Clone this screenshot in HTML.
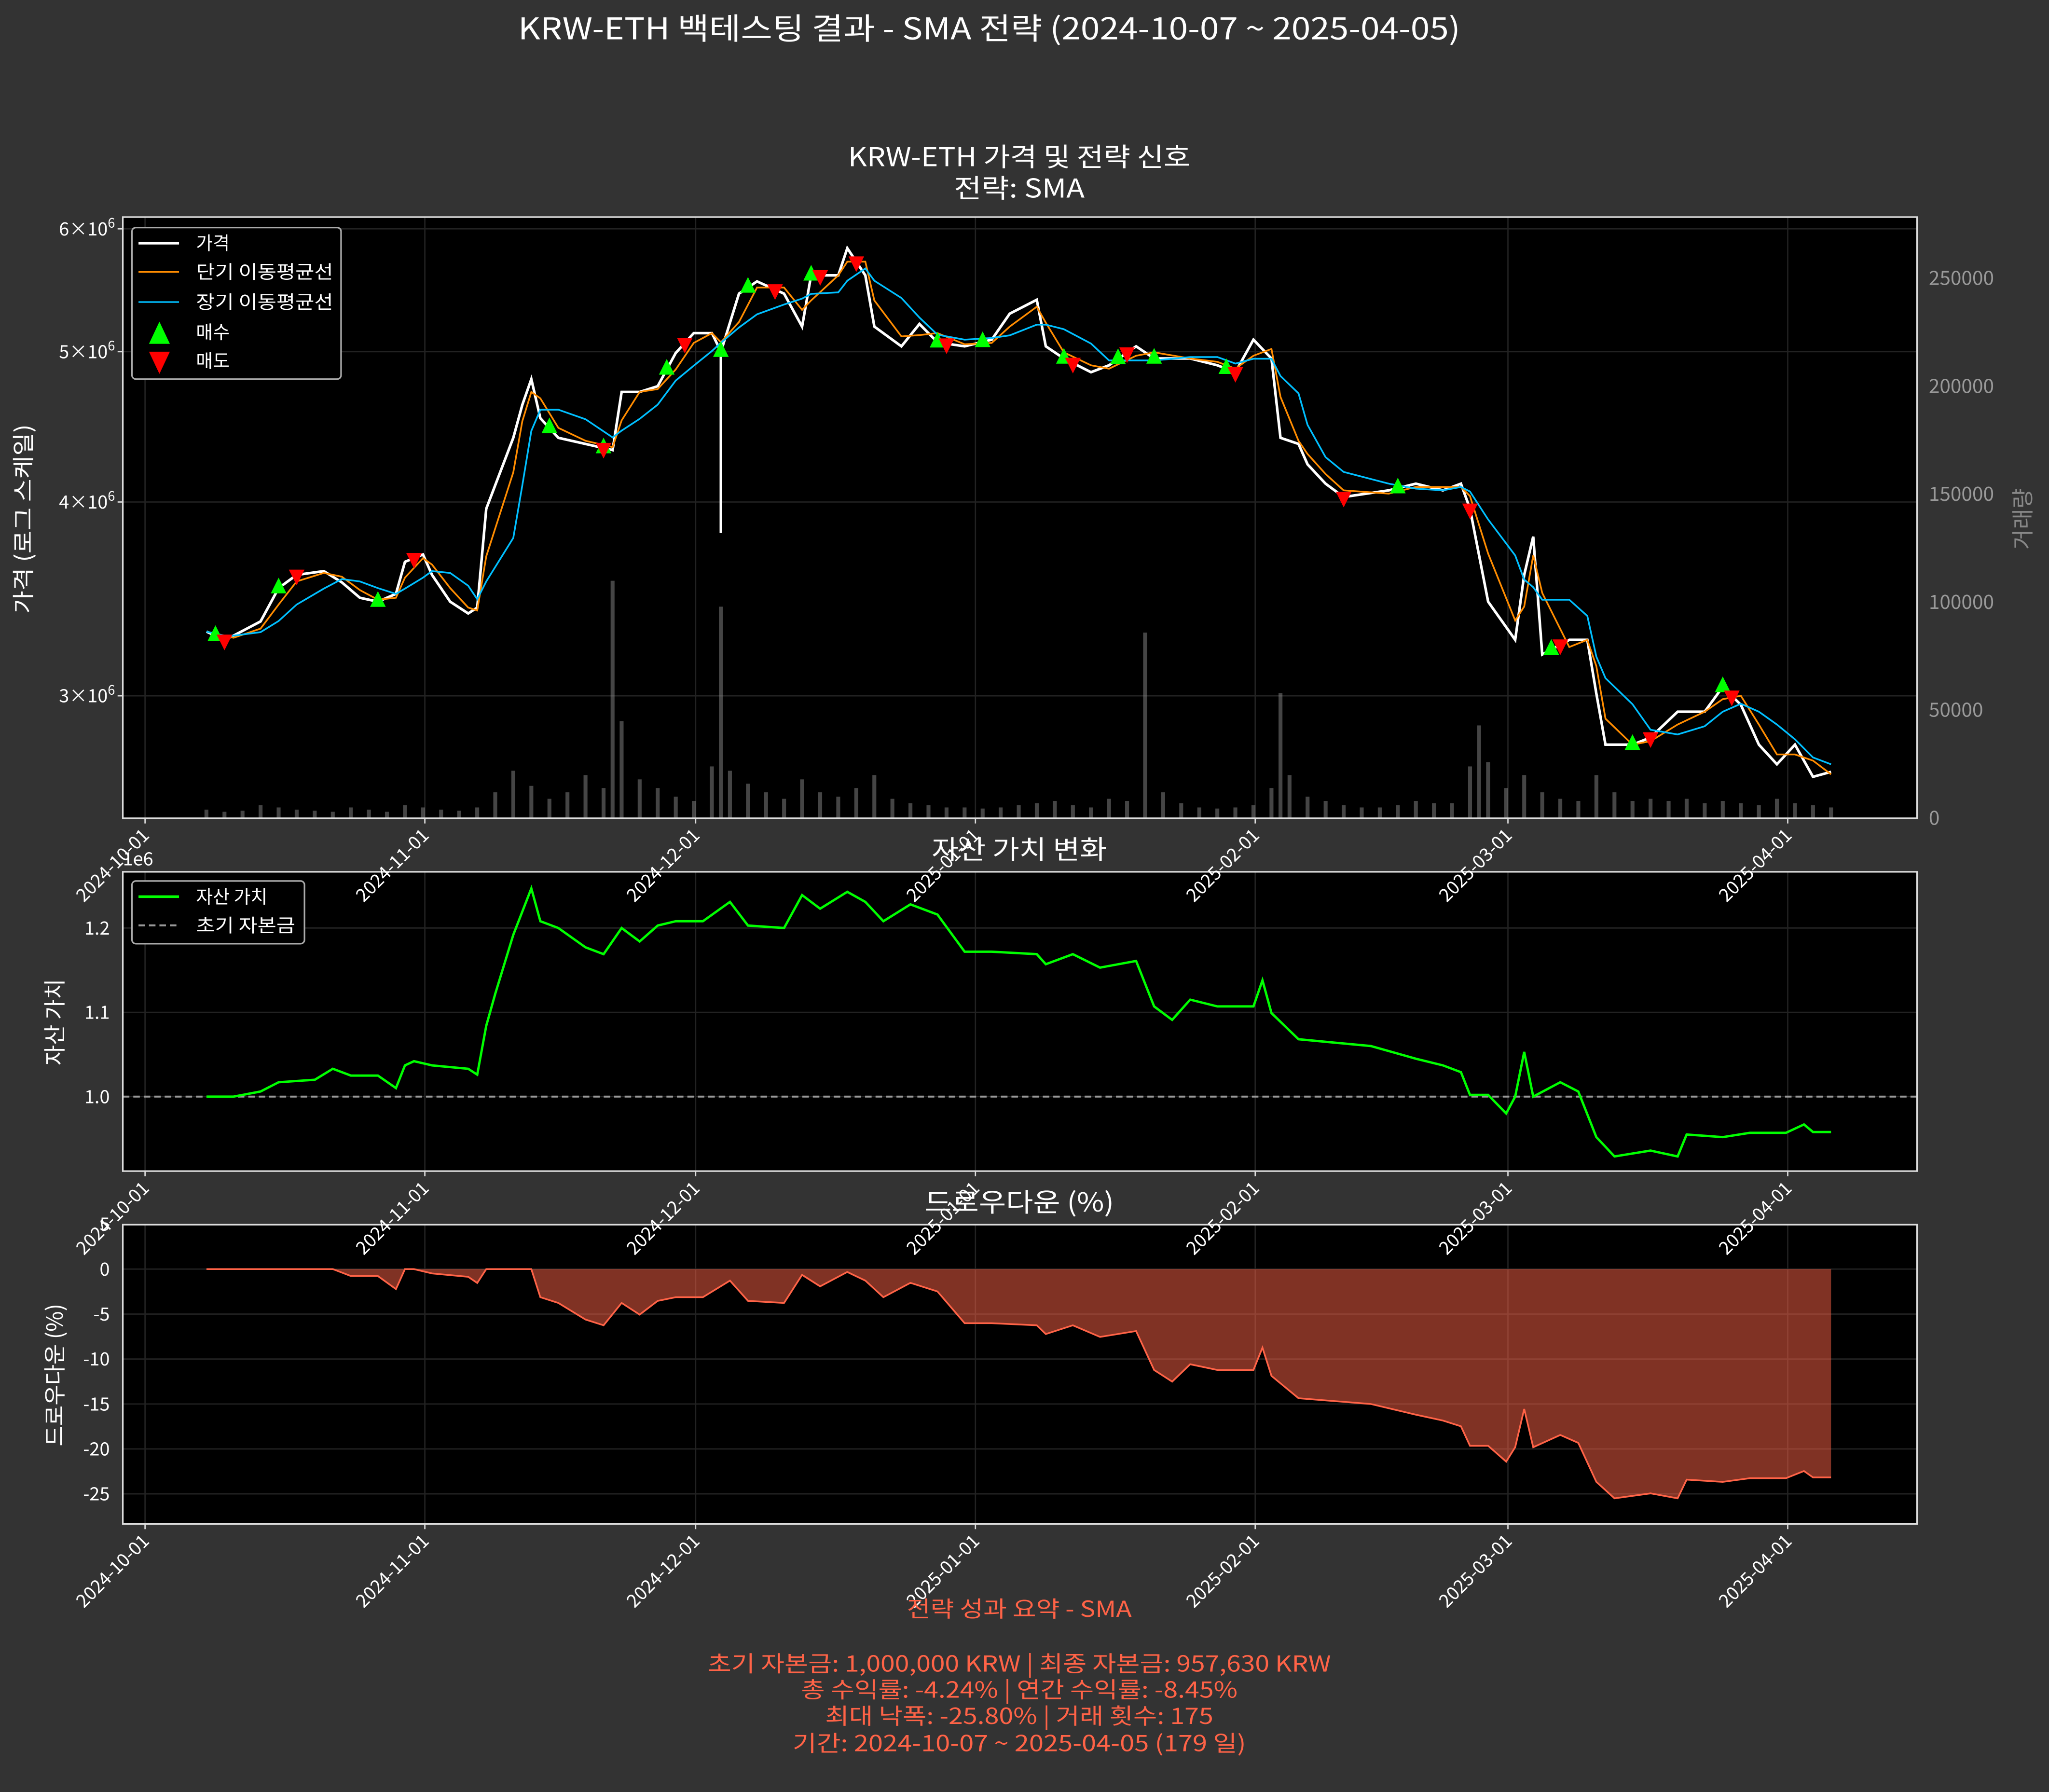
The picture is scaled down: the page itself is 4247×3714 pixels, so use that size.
<!DOCTYPE html>
<html><head><meta charset="utf-8">
<style>
html,body{margin:0;padding:0;background:#333333;}
svg{display:block;}
text{font-family:"Noto Sans CJK KR","Liberation Sans",sans-serif;}
</style></head>
<body>
<svg id="chart" xmlns="http://www.w3.org/2000/svg" width="4247" height="3714" viewBox="0 0 1568 1371">
<rect x="0" y="0" width="1568" height="1371" fill="#333333"/>
<defs>
<clipPath id="c1"><rect x="94" y="166" width="1373" height="460"/></clipPath>
<clipPath id="c2"><rect x="94" y="667" width="1373" height="229"/></clipPath>
<clipPath id="c3"><rect x="94" y="937" width="1373" height="229"/></clipPath>
</defs>
<text x="757" y="30" fill="#ffffff" font-size="23" text-anchor="middle" textLength="721" lengthAdjust="spacingAndGlyphs">KRW-ETH 백테스팅 결과 - SMA 전략 (2024-10-07 ~ 2025-04-05)</text>
<text x="780" y="127" fill="#ffffff" font-size="20" text-anchor="middle" textLength="262" lengthAdjust="spacingAndGlyphs">KRW-ETH 가격 및 전략 신호</text>
<text x="780" y="151" fill="#ffffff" font-size="20" text-anchor="middle" textLength="100" lengthAdjust="spacingAndGlyphs">전략: SMA</text>
<rect x="94" y="166" width="1373" height="460" fill="#000"/>
<rect x="94" y="667" width="1373" height="229" fill="#000"/>
<rect x="94" y="937" width="1373" height="229" fill="#000"/>
<g id="g1" clip-path="url(#c1)"></g>
<g id="g2" clip-path="url(#c2)"></g>
<g id="g3" clip-path="url(#c3)"></g>
<g id="gax"></g>
<text x="780" y="657" fill="#ffffff" font-size="20" text-anchor="middle" textLength="134" lengthAdjust="spacingAndGlyphs">자산 가치 변화</text>
<text x="780" y="927" fill="#ffffff" font-size="20" text-anchor="middle" textLength="145" lengthAdjust="spacingAndGlyphs">드로우다운 (%)</text>
<text transform="translate(24,397) rotate(-90)" fill="#ffffff" font-size="17" text-anchor="middle" textLength="145" lengthAdjust="spacingAndGlyphs">가격 (로그 스케일)</text>
<text transform="translate(1554,397) rotate(-90)" fill="#888888" font-size="17" text-anchor="middle">거래량</text>
<text transform="translate(48,782) rotate(-90)" fill="#ffffff" font-size="17" text-anchor="middle">자산 가치</text>
<text transform="translate(48,1052) rotate(-90)" fill="#ffffff" font-size="17" text-anchor="middle">드로우다운 (%)</text>
<text x="94" y="662" fill="#ffffff" font-size="14">1e6</text>
<g fill="#ff6347" font-size="17" text-anchor="middle">
<text x="780" y="1237" textLength="172" lengthAdjust="spacingAndGlyphs">전략 성과 요약 - SMA</text>
<text x="780" y="1279" textLength="477" lengthAdjust="spacingAndGlyphs">초기 자본금: 1,000,000 KRW | 최종 자본금: 957,630 KRW</text>
<text x="780" y="1299" textLength="334" lengthAdjust="spacingAndGlyphs">총 수익률: -4.24% | 연간 수익률: -8.45%</text>
<text x="780" y="1319" textLength="297" lengthAdjust="spacingAndGlyphs">최대 낙폭: -25.80% | 거래 횟수: 175</text>
<text x="780" y="1340" textLength="347" lengthAdjust="spacingAndGlyphs">기간: 2024-10-07 ~ 2025-04-05 (179 일)</text>
</g>
<g>
<rect x="101" y="174" width="160" height="116" rx="3" fill="#000" stroke="#aaaaaa" stroke-width="1.2"/>
<line x1="106" y1="186" x2="137" y2="186" stroke="#fff" stroke-width="2"/>
<text x="150" y="191" fill="#fff" font-size="14">가격</text>
<line x1="106" y1="208" x2="137" y2="208" stroke="#ff8c00" stroke-width="1.2"/>
<text x="150" y="213" fill="#fff" font-size="14" textLength="105" lengthAdjust="spacingAndGlyphs">단기 이동평균선</text>
<line x1="106" y1="231" x2="137" y2="231" stroke="#00bfff" stroke-width="1.2"/>
<text x="150" y="236" fill="#fff" font-size="14" textLength="105" lengthAdjust="spacingAndGlyphs">장기 이동평균선</text>
<polygon points="122,246 130,263 114,263" fill="#00ff00"/>
<text x="150" y="259" fill="#fff" font-size="14">매수</text>
<polygon points="114,269 130,269 122,286" fill="#ff0000"/>
<text x="150" y="281" fill="#fff" font-size="14">매도</text>
</g>
<g>
<rect x="101" y="674" width="132" height="48" rx="3" fill="#000" stroke="#aaaaaa" stroke-width="1.2"/>
<line x1="106" y1="686" x2="137" y2="686" stroke="#00ff00" stroke-width="2"/>
<text x="150" y="691" fill="#fff" font-size="14">자산 가치</text>
<line x1="106" y1="708" x2="137" y2="708" stroke="#999" stroke-width="1.5" stroke-dasharray="5,3"/>
<text x="150" y="713" fill="#fff" font-size="14" textLength="76" lengthAdjust="spacingAndGlyphs">초기 자본금</text>
</g>
</svg>
<script>
// ---- data ----
const priceDays = [0,2,3,6,8,10,13,15,17,19,21,22,24,25,27,29,30,31,34,35,36,37,39,42,45,46,48,50,52,54,56,57,59,61,64,66,67,70,71,73,74,77,79,81,84,87,89,92,93,95,98,100,103,105,109,112,114,116,118,119,121,122,124,126,131,134,137,139,140,142,145,146,147,148,151,153,154,155,158,160,163,166,168,170,172,174,176,178,180];
const priceValues = [3.30,3.26,3.28,3.35,3.52,3.59,3.61,3.55,3.47,3.45,3.49,3.66,3.70,3.59,3.45,3.39,3.42,3.96,4.40,4.62,4.80,4.53,4.40,4.36,4.32,4.71,4.71,4.75,4.99,5.14,5.14,5.00,5.45,5.55,5.45,5.19,5.60,5.60,5.83,5.60,5.19,5.04,5.21,5.07,5.04,5.09,5.29,5.40,5.04,4.95,4.85,4.90,5.04,4.95,4.95,4.90,4.85,5.09,4.95,4.40,4.36,4.23,4.11,4.03,4.07,4.11,4.07,4.11,3.96,3.45,3.26,3.59,3.80,3.19,3.26,3.26,3.01,2.79,2.79,2.82,2.93,2.93,3.04,2.96,2.79,2.71,2.79,2.66,2.68];
const spikeDay = [57];
const spikeLow = [3.82];
const volumeDays = [0,2,4,6,8,10,12,14,16,18,20,22,24,26,28,30,32,34,36,38,40,42,44,45,46,48,50,52,54,56,57,58,60,62,64,66,68,70,72,74,76,78,80,82,84,86,88,90,92,94,96,98,100,102,104,106,108,110,112,114,116,118,119,120,122,124,126,128,130,132,134,136,138,140,141,142,144,146,148,150,152,154,156,158,160,162,164,166,168,170,172,174,176,178,180];
const volumeValues = [4000,3000,3500,6000,5000,4000,3500,3000,5000,4000,3000,6000,5000,4000,3500,5000,12000,22000,15000,9000,12000,20000,14000,110000,45000,18000,14000,10000,8000,24000,98000,22000,16000,12000,9000,18000,12000,10000,14000,20000,9000,7000,6000,5000,5000,4500,5000,6000,7000,8000,6000,5000,9000,8000,86000,12000,7000,5000,4500,5000,6000,14000,58000,20000,10000,8000,6000,5000,5000,6000,8000,7000,7000,24000,43000,26000,14000,20000,12000,9000,8000,20000,12000,8000,9000,8000,9000,7000,8000,7000,6000,9000,7000,6000,5000];
const buyDays = [1,8,19,38,44,51,57,60,67,81,86,95,101,105,113,132,149,158,168];
const sellDays = [2,10,23,44,53,63,68,72,82,96,102,114,126,140,150,160,169];
const equityDays = [0,3,6,8,12,14,16,19,21,22,23,25,29,30,31,32,34,36,37,39,42,44,46,48,50,52,55,58,60,64,66,68,71,73,75,78,81,84,87,92,93,96,99,103,105,107,109,112,116,117,118,121,125,129,134,137,139,140,142,144,145,146,147,150,152,154,156,160,163,164,168,171,175,177,178,180];
const equityValues = [1.0,1.0,1.006,1.017,1.02,1.033,1.025,1.025,1.01,1.037,1.042,1.037,1.033,1.026,1.084,1.122,1.192,1.247,1.208,1.2,1.177,1.169,1.2,1.184,1.203,1.208,1.208,1.231,1.203,1.2,1.239,1.223,1.243,1.231,1.208,1.228,1.216,1.172,1.172,1.169,1.157,1.169,1.153,1.161,1.107,1.091,1.115,1.107,1.107,1.138,1.099,1.068,1.064,1.06,1.045,1.037,1.029,1.002,1.002,0.98,1.0,1.053,1.0,1.017,1.006,0.952,0.929,0.936,0.929,0.955,0.952,0.957,0.957,0.967,0.958,0.958];
const monthLabels = ["2024-10-01","2024-11-01","2024-12-01","2025-01-01","2025-02-01","2025-03-01","2025-04-01"];
const monthOffsets = [0,31,61,92,123,151,182];
const priceTicks = [3,4,5,6];
const volumeTicks = [0,50000,100000,150000,200000,250000];
const equityTicks = [1.0,1.1,1.2];
const ddTicks = [5,0,-5,-10,-15,-20,-25];

// ---- scales ----
const NS='http://www.w3.org/2000/svg';
const PX_DAY = 6.907;
const xMonth = t => 111 + t*PX_DAY;
const xDay = d => 111 + (d+6.8)*PX_DAY;
const yPrice = p => 175 + (Math.log10(6) - Math.log10(p))*1187;
const yVol = v => 626 - v*413/250000;
const yEq = v => 839 - (v-1)*645;
const yDD = v => 971 - v*6.88;
function mk(tag, attrs, parent){const e=document.createElementNS(NS,tag);for(const k in attrs)e.setAttribute(k,attrs[k]);parent.appendChild(e);return e;}
const g1=document.getElementById('g1'),g2=document.getElementById('g2'),g3=document.getElementById('g3'),gax=document.getElementById('gax');

// grid lines
[[166,626,g1],[667,896,g2],[937,1166,g3]].forEach(([t,b,g])=>{
  monthOffsets.forEach(m=>{const l=mk('line',{x1:xMonth(m),x2:xMonth(m),y1:t,y2:b,stroke:'#222',"stroke-width":1},g);
  
  });
});
priceTicks.forEach(p=>{const l=mk('line',{x1:94,x2:1467,y1:yPrice(p),y2:yPrice(p),stroke:'#222'},g1);

});
equityTicks.forEach(v=>{const l=mk('line',{x1:94,x2:1467,y1:yEq(v),y2:yEq(v),stroke:'#222'},g2);

});
ddTicks.forEach(v=>{const l=mk('line',{x1:94,x2:1467,y1:yDD(v),y2:yDD(v),stroke:'#222'},g3);

});

// volume bars
volumeDays.forEach((d,i)=>{const v=volumeValues[i];const b=mk('rect',{x:xDay(d)-1.5,y:yVol(v),width:3,height:626-yVol(v),fill:'#999','fill-opacity':0.45},g1);

});

// price & MAs
function ma(arr,n){return arr.map((_,i)=>{const s=arr.slice(Math.max(0,i-n+1),i+1);return s.reduce((a,b)=>a+b,0)/s.length;});}
const pts=(vals,fy)=>priceDays.map((d,i)=>xDay(d).toFixed(1)+','+fy(vals[i]).toFixed(1)).join(' ');
const pl=mk('polyline',{points:pts(priceValues,yPrice),fill:'none',stroke:'#fff','stroke-width':2},g1);


spikeDay.forEach((d,i)=>{const k=priceDays.indexOf(d);const s=mk('line',{x1:xDay(d),x2:xDay(d),y1:yPrice(priceValues[k]),y2:yPrice(spikeLow[i]),stroke:'#fff','stroke-width':2},g1);

});
const sm=mk('polyline',{points:pts(ma(priceValues,2),yPrice),fill:'none',stroke:'#ff8c00','stroke-width':1.3},g1);


const lm=mk('polyline',{points:pts(ma(priceValues,4),yPrice),fill:'none',stroke:'#00bfff','stroke-width':1.3},g1);


function priceAt(d){for(let i=1;i<priceDays.length;i++){if(priceDays[i]>=d){const a=priceDays[i-1],b=priceDays[i];const t=(d-a)/(b-a);return priceValues[i-1]+(priceValues[i]-priceValues[i-1])*t;}}return priceValues[priceValues.length-1];}
buyDays.forEach(d=>{const x=xDay(d),y=yPrice(priceAt(d));const m=mk('polygon',{points:`${x},${y-8} ${x+6},${y+4} ${x-6},${y+4}`,fill:'#00ff00'},g1);

});
sellDays.forEach(d=>{const x=xDay(d),y=yPrice(priceAt(d));const m=mk('polygon',{points:`${x-6},${y-4} ${x+6},${y-4} ${x},${y+8}`,fill:'#ff0000'},g1);

});

// equity
const il=mk('line',{x1:94,x2:1467,y1:yEq(1),y2:yEq(1),stroke:'#999','stroke-width':1.5,'stroke-dasharray':'5,3'},g2);


const eq=mk('polyline',{points:equityDays.map((d,i)=>xDay(d).toFixed(1)+','+yEq(equityValues[i]).toFixed(1)).join(' '),fill:'none',stroke:'#00ff00','stroke-width':1.8},g2);



// drawdown (derived from equity)
let peak=0;const dd=equityValues.map(v=>{peak=Math.max(peak,v);return (v/peak-1)*100;});
const ddPts=equityDays.map((d,i)=>xDay(d).toFixed(1)+','+yDD(dd[i]).toFixed(1));
const area=mk('polygon',{points:xDay(equityDays[0])+','+yDD(0)+' '+ddPts.join(' ')+' '+xDay(equityDays[equityDays.length-1])+','+yDD(0),fill:'#ff6347','fill-opacity':0.5,stroke:'none'},g3);


const ddl=mk('polyline',{points:ddPts.join(' '),fill:'none',stroke:'#ff6347','stroke-width':1.3},g3);



// frames and ticks
[[166,460],[667,229],[937,229]].forEach(([t,h])=>{const r=mk('rect',{x:94,y:t,width:1373,height:h,fill:'none',stroke:'#dddddd','stroke-width':1.2},gax);

});
function txt(x,y,s,attrs){const t=mk('text',Object.assign({x:x,y:y,fill:'#fff','font-size':14},attrs||{}),gax);t.textContent=s;return t;}
[626,896,1166].forEach(b=>{monthOffsets.forEach((m,i)=>{const x=xMonth(m);
  const tk=mk('line',{x1:x,x2:x,y1:b,y2:b+4,stroke:'#ddd'},gax);
  
  
  const t=txt(x+4,b+14,monthLabels[i],{'text-anchor':'end',transform:`rotate(-45 ${x+4} ${b+14})`});
  
  });});
priceTicks.forEach(p=>{const y=yPrice(p);const t=mk('text',{x:88,y:y+5,fill:'#fff','font-size':14,'text-anchor':'end'},gax);
t.innerHTML=p+'×10<tspan dy="-6" font-size="10">6</tspan>';


const tk=mk('line',{x1:90,x2:94,y1:y,y2:y,stroke:'#ddd'},gax);

});
volumeTicks.forEach(v=>{const y=yVol(v);const t=txt(1476,y+5,String(v),{fill:'#999','font-size':15});

});
equityTicks.forEach(v=>{const y=yEq(v);const t=txt(84,y+5,v.toFixed(1),{'text-anchor':'end'});

});
ddTicks.forEach(v=>{const y=yDD(v);const t=txt(84,y+5,String(v),{'text-anchor':'end'});

});
</script>
</body></html>
